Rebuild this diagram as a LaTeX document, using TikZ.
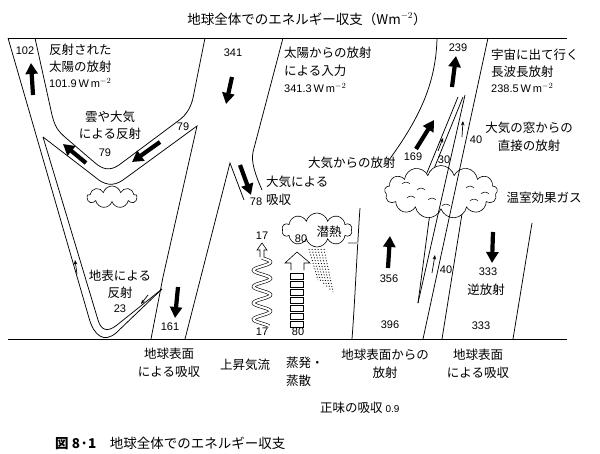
\documentclass[tikz,border=0pt]{standalone}
\usepackage{fontspec}
\setmainfont{Noto Sans CJK JP}
\newfontfamily\lat{Liberation Sans}
\usetikzlibrary{arrows.meta,shapes.symbols}
\begin{document}
\begin{tikzpicture}[x=1pt,y=-1pt,
  edge/.style={line width=0.75pt,black},
  bigarr/.style={line width=4.2pt,-{Triangle[length=11pt,width=12pt]}},
  thinarr/.style={line width=0.7pt,-{Stealth[length=4.5pt,width=3.5pt]}},
  lab/.style={font=\fontsize{12.5}{15}\selectfont,inner sep=0pt},
  num/.style={font=\lat\fontsize{11}{13}\selectfont,inner sep=0pt},
  cloudy/.style={cloud,draw,fill=white,line width=0.6pt,inner sep=0pt},
  puff/.style={line width=0.5pt}]
\useasboundingbox (0,0) rectangle (600,453);
\fill[white] (0,0) rectangle (600,453);

% frame lines
\draw[edge] (8,38) -- (567,38);
\draw[edge] (8,339) -- (567,339);

% ---- left: reflected solar ----
\draw[edge] (8,38) -- (89,318) .. controls (94,336) and (104,343) .. (116,333) -- (162,289);
\draw[edge] (162,289) -- (117,325) .. controls (107,333) and (101,330) .. (98,320) -- (43,137);
\draw[edge] (43,137) -- (95,177) .. controls (104,185) and (113,187) .. (123,180) -- (197,126) -- (163,277) -- (151,339);
\draw[edge] (35,38) -- (52,115) .. controls (55,127) and (58,131) .. (66,138) -- (94,162) .. controls (103,170) and (110,171) .. (119,165) -- (178,121) .. controls (188,114) and (192,105) .. (194,93) -- (205,38);
\draw[edge] (283,38) -- (253,152) .. controls (251,162) and (255,174) .. (262,190);
\draw[edge] (185,339) -- (230,163) -- (244,200);

% small cloud
\node[cloudy,cloud puffs=9,aspect=2.3,minimum width=50pt,minimum height=22pt] (c1) at (112,197) {};

% ---- right: longwave ----
\draw[edge] (437,38) .. controls (436,85) and (418,120) .. (389,160);
\draw[edge] (458,97) -- (424,180);
\draw[edge] (463,97) -- (429,181);
\draw[edge] (352,339) .. controls (355,300) and (357,250) .. (360,208);
\draw[edge] (433,190) -- (418,303);
\draw[edge] (442,339) -- (465,195);
\draw[edge] (513,339) -- (532,223);

% big cloud
\node[cloudy,cloud puffs=13,aspect=2.1,minimum width=113pt,minimum height=53pt] (c2) at (441,192) {};
\foreach \px/\py in {406/184,421/190,411/198,470/188,485/194,474/201,446/206,432/200}
  \draw[puff] (\px-4,\py) .. controls (\px-2,\py-2.5) and (\px+2,\py-2.5) .. (\px+4,\py);

\draw[edge] (418,303) -- (465,95);
\draw[edge] (423,339) -- (488,38);

% latent heat cloud
\draw[gray!55,line width=2.5pt] (348,243) -- (358,243);
\node[cloudy,cloud puffs=10,aspect=2,minimum width=70pt,minimum height=34pt] (c3) at (317,230) {};
\foreach \i in {0,...,5}
  \draw[dotted,line width=0.9pt] (309+3*\i,249) -- (318+3*\i,280+2.4*\i);

% evaporation arrow
\draw[line width=0.6pt,fill=white] (291,270) -- (291,263) -- (285,263) -- (297,252) -- (310,263) -- (304,263) -- (304,270);
\foreach \i in {0,...,6}
  \draw[line width=0.6pt] (290,273+8*\i) rectangle (303,279+8*\i);

% thermal spiral
\draw[line width=0.6pt,double=white,double distance=2.2pt] plot[domain=258:326,samples=90,smooth] ({262+8.5*sin(22*(\x-258))},{\x});
\draw[line width=0.6pt,fill=white] (260,257) -- (260,250) -- (257,250) -- (262,243) -- (267,250) -- (264,250) -- (264,257);

% thick arrows
\draw[bigarr] (33,95) -- (31,63);
\draw[bigarr] (232,77) -- (226,104);
\draw[bigarr] (86,163) -- (63,144);
\draw[bigarr] (160,142) -- (132,162);
\draw[bigarr] (240,165) -- (251,195);
\draw[bigarr] (178,287) -- (175,318);
\draw[bigarr] (416,149) -- (434,120);
\draw[bigarr] (452,87) -- (456,56);
\draw[bigarr] (388,268) -- (390,236);
\draw[bigarr] (493,232) -- (492,263);

% thin arrows
\draw[thinarr] (438,151) -- (443,138);
\draw[thinarr] (462,137) -- (463,121);
\draw[thinarr] (432,273) -- (435,255);
\draw[thinarr] (77,274) -- (75,260);
\draw[thinarr] (148,295) -- (141,304);

% ---- texts ----
\node[lab,font=\fontsize{13.5}{16}\selectfont] (title) at (307,19) {地球全体でのエネルギー収支（Wm$^{-2}$）};
\node[num] (n102) at (25,51) {102};
\node[lab,anchor=west] (l1a) at (49,50) {反射された};
\node[lab,anchor=west] (l1b) at (49,67) {太陽の放射};
\node[num,anchor=west] (l1c) at (49,83) {101.9\,W\,m$^{-2}$};
\node[num] (n341) at (233,53) {341};
\node[lab,anchor=west] (l2a) at (284,53) {太陽からの放射};
\node[lab,anchor=west] (l2b) at (284,71) {による入力};
\node[num,anchor=west] (l2c) at (284,88) {341.3\,W\,m$^{-2}$};
\node[lab] (l3a) at (110,117) {雲や大気};
\node[lab] (l3b) at (110,134) {による反射};
\node[num] (n79a) at (105,153) {79};
\node[num] (n79b) at (183,127) {79};
\node[lab,anchor=west] (l4a) at (266,182) {大気による};
\node[lab,anchor=west] (l4b) at (266,200) {吸収};
\node[num] (n78) at (256,202) {78};
\node[lab,anchor=west] (l5) at (308,163) {大気からの放射};
\node[num] (n169) at (413,157) {169};
\node[num] (n30) at (444,160) {30};
\node[num] (n40a) at (476,140) {40};
\node[num] (n239) at (458,48) {239};
\node[lab,anchor=west] (l6a) at (491,55) {宇宙に出て行く};
\node[lab,anchor=west] (l6b) at (491,72) {長波長放射};
\node[num,anchor=west] (l6c) at (491,88) {238.5\,W\,m$^{-2}$};
\node[lab] (l7a) at (529,128) {大気の窓からの};
\node[lab] (l7b) at (529,146) {直接の放射};
\node[lab] (l8) at (544,198) {温室効果ガス};
\node[num] (n80a) at (301,239) {80};
\node[lab] (l9) at (329,232) {潜熱};
\node[num] (n17a) at (262,236) {17};
\node[num] (n17b) at (262,332) {17};
\node[num] (n80b) at (298,332) {80};
\node[num] (n356) at (389,279) {356};
\node[num] (n396) at (390,325) {396};
\node[num] (n40b) at (446,270) {40};
\node[num] (n333a) at (488,272) {333};
\node[lab] (l10) at (486,290) {逆放射};
\node[num] (n333b) at (481,326) {333};
\node[num] (n161) at (170,327) {161};
\node[lab] (l11a) at (120,276) {地表による};
\node[lab] (l11b) at (120,293) {反射};
\node[num] (n23) at (120,309) {23};
\node[lab] (b1) at (169,354) {地球表面};
\node[lab] (b2) at (169,372) {による吸収};
\node[lab] (b3) at (245,365) {上昇気流};
\node[lab,anchor=west] (b4) at (286,363) {蒸発・};
\node[lab,anchor=west] (b4b) at (286,381) {蒸散};
\node[lab] (b5) at (385,355) {地球表面からの};
\node[lab] (b6) at (385,373) {放射};
\node[lab] (b7) at (478,355) {地球表面};
\node[lab] (b8) at (478,373) {による吸収};
\node[lab,anchor=west] (b9) at (320,408) {正味の吸収 {\lat\fontsize{10}{12}\selectfont 0.9}};
\node[lab,anchor=west,font=\fontsize{13.5}{16}\selectfont] (cap) at (55,443) {\textbf{図 8·1}\quad 地球全体でのエネルギー収支};
\end{tikzpicture}
\end{document}
